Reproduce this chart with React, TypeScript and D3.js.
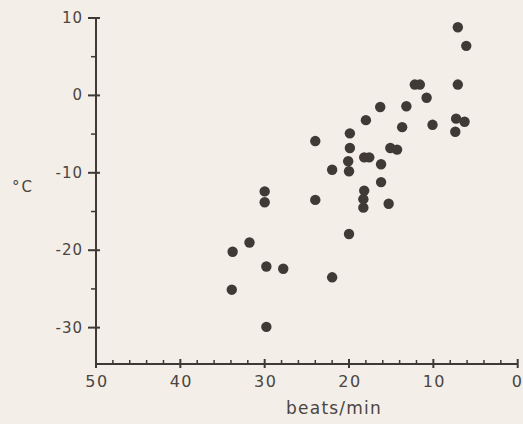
import { useEffect, useRef } from 'react'
import * as d3 from 'd3'

// heart rate (beats/min) and temperature (°C)
const beats = [
  7.1, 6.1, 12.2, 11.6, 7.1, 10.8, 16.3, 13.2, 18.0, 13.7, 10.1, 7.3, 6.3, 7.4,
  24.0, 19.9, 19.9, 15.1, 14.3, 18.2, 17.6, 16.2, 20.1, 20.0, 22.0, 16.2, 30.0,
  30.0, 24.0, 18.2, 18.3, 18.3, 15.3, 20.0, 31.8, 33.8, 29.8, 27.8, 22.0, 33.9,
  29.8,
]
const temps = [
  8.8, 6.4, 1.4, 1.4, 1.4, -0.3, -1.5, -1.4, -3.2, -4.1, -3.8, -3.0, -3.4, -4.7,
  -5.9, -4.9, -6.8, -6.8, -7.0, -8.0, -8.0, -8.9, -8.5, -9.8, -9.6, -11.2, -12.4,
  -13.8, -13.5, -12.3, -13.4, -14.5, -14.0, -17.9, -19.0, -20.2, -22.1, -22.4,
  -23.5, -25.1, -29.9,
]
const xTicks = [50, 40, 30, 20, 10, 0]
const yTicks = [10, 0, -10, -20, -30]
const yMinorTicks = [5, -5, -15, -25]
const xLabel = 'beats/min'
const yLabel = '°C'

const ink = '#3e3935'

const App = () => {
  const svgRef = useRef(null)
  const width = 523
  const height = 424

  useEffect(() => {
    const xScale = d3.scaleLinear().domain([50, 0]).range([96, 517.7])
    const yScale = d3.scaleLinear().domain([-34.7, 10]).range([364, 18])

    const svg = d3.select(svgRef.current)
    svg.selectAll('*').remove()

    // paper background
    svg
      .append('rect')
      .attr('width', width)
      .attr('height', height)
      .attr('fill', '#f3eee8')

    // Axis lines
    svg
      .append('line')
      .attr('x1', xScale(50))
      .attr('x2', xScale(50))
      .attr('y1', yScale(-34.7))
      .attr('y2', yScale(10))
      .attr('stroke', ink)
      .attr('stroke-width', 2)
    svg
      .append('line')
      .attr('x1', xScale(50))
      .attr('x2', xScale(0))
      .attr('y1', yScale(-34.7))
      .attr('y2', yScale(-34.7))
      .attr('stroke', ink)
      .attr('stroke-width', 2)

    // y ticks
    const y0 = xScale(50)
    svg
      .selectAll('.ymajor')
      .data(yTicks)
      .enter()
      .append('line')
      .attr('x1', y0 - 8)
      .attr('x2', y0 + 4)
      .attr('y1', (d) => yScale(d))
      .attr('y2', (d) => yScale(d))
      .attr('stroke', ink)
      .attr('stroke-width', 2)
    svg
      .selectAll('.yminor')
      .data(yMinorTicks)
      .enter()
      .append('line')
      .attr('x1', y0 - 5)
      .attr('x2', y0)
      .attr('y1', (d) => yScale(d))
      .attr('y2', (d) => yScale(d))
      .attr('stroke', ink)
      .attr('stroke-width', 1.5)
    svg
      .selectAll('.ylabel')
      .data(yTicks)
      .enter()
      .append('text')
      .attr('x', 83)
      .attr('y', (d) => yScale(d) + 5)
      .attr('text-anchor', 'end')
      .style('fill', '#4a4541')
      .style('font-family', 'DejaVu Sans')
      .style('font-size', '15px')
      .style('letter-spacing', '1px')
      .text((d) => String(d))

    // x ticks
    const x0 = yScale(-34.7)
    svg
      .selectAll('.xmajor')
      .data(xTicks)
      .enter()
      .append('line')
      .attr('x1', (d) => xScale(d))
      .attr('x2', (d) => xScale(d))
      .attr('y1', x0 - 5)
      .attr('y2', x0 + 4)
      .attr('stroke', ink)
      .attr('stroke-width', 2)
    svg
      .selectAll('.xminor')
      .data(d3.range(48, 0, -2).filter((d) => d % 10 !== 0))
      .enter()
      .append('line')
      .attr('x1', (d) => xScale(d))
      .attr('x2', (d) => xScale(d))
      .attr('y1', x0 - 4)
      .attr('y2', x0)
      .attr('stroke', ink)
      .attr('stroke-width', 1.5)
    // the last label sits at the page edge, keep it inside
    svg
      .selectAll('.xlabel')
      .data(xTicks)
      .enter()
      .append('text')
      .attr('x', (d) => (d === 0 ? width - 1 : xScale(d) + 1))
      .attr('y', 387)
      .attr('text-anchor', (d) => (d === 0 ? 'end' : 'middle'))
      .style('fill', '#4a4541')
      .style('font-family', 'DejaVu Sans')
      .style('font-size', '16px')
      .style('letter-spacing', (d) => (d === 0 ? '0px' : '1.5px'))
      .text((d) => String(d))

    // axis titles
    svg
      .append('text')
      .attr('x', 334)
      .attr('y', 414)
      .attr('text-anchor', 'middle')
      .style('fill', '#4a4541')
      .style('font-family', 'DejaVu Sans')
      .style('font-size', '17px')
      .style('letter-spacing', '1.2px')
      .text(xLabel)
    svg
      .append('text')
      .attr('x', 12)
      .attr('y', 192)
      .style('fill', '#4a4541')
      .style('font-family', 'DejaVu Sans')
      .style('font-size', '15px')
      .style('letter-spacing', '2px')
      .text(yLabel)

    // Draws the points
    svg
      .selectAll('.dot')
      .data(beats.map((b, i) => ({ b, t: temps[i] })))
      .enter()
      .append('circle')
      .attr('cx', (d) => xScale(d.b))
      .attr('cy', (d) => yScale(d.t))
      .attr('r', 5.2)
      .attr('fill', '#403a37')
  }, [])

  return (
    <svg
      ref={svgRef}
      width={width}
      height={height}
      style={{ position: 'absolute', left: 0, top: 0, display: 'block' }}
    />
  )
}

export default App
